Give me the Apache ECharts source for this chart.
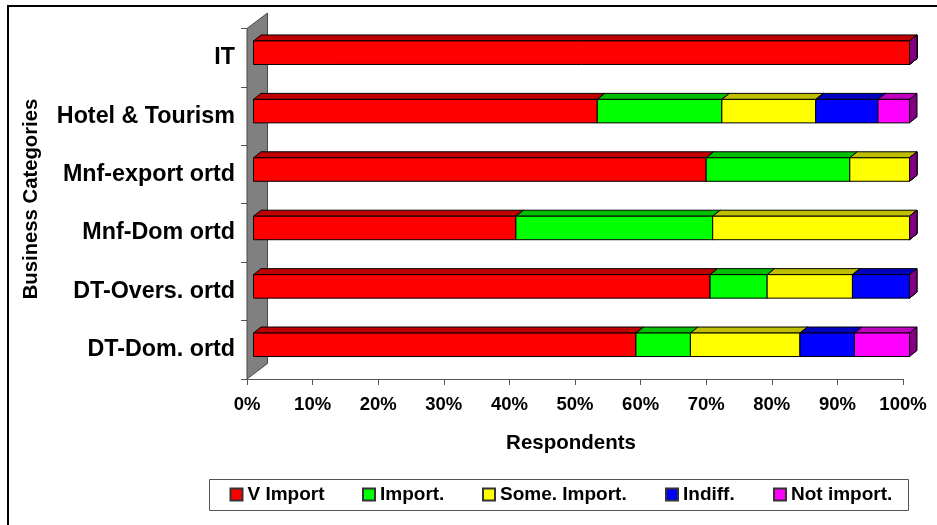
<!DOCTYPE html>
<html><head><meta charset="utf-8">
<style>html,body{margin:0;padding:0;background:#fff}#c{width:937px;height:525px}</style>
<script src="https://cdn.jsdelivr.net/npm/echarts@6/dist/echarts.min.js"></script>
</head><body><div id="c"></div>
<script>
var categories = ['DT-Dom. ortd','DT-Overs. ortd','Mnf-Dom ortd','Mnf-export ortd','Hotel & Tourism','IT'];
var vImport   = [58.3,69.6,40,69,52.4,100];
var importd   = [8.3,8.7,30,21.9,19,0];
var someImport= [16.7,13,30,9.1,14.3,0];
var indiff    = [8.3,8.7,0,0,9.5,0];
var notImport = [8.4,0,0,0,4.8,0];
var seriesNames = ['V Import','Import.','Some. Import.','Indiff.','Not import.'];
var seriesValues = [vImport,importd,someImport,indiff,notImport];
var frontColors = ['#ff0000','#00ff00','#ffff00','#0000ff','#ff00ff'];
var topColors = ['#bf0000','#00bf00','#bfbf00','#0000bf','#bf00bf'];
var sideColor = '#800080';

var FONT = '"Liberation Sans", Arial, sans-serif';
var DX = 6.5, DY = 5, BX = 7.5, BY = 6, BAR = 23.5, WX = 20.5, WY = 15.5;
var legendLefts = [229.5,362,482,665,773];

function barItem(idx){
  return function(params, api){
    var cat = api.value(0), s = api.value(1), e = api.value(2);
    var a = api.coord([s,cat]), b = api.coord([e,cat]);
    var x0 = a[0]+DX, x1 = b[0]+DX, yc = a[1]-DY, y0 = yc-BAR/2, y1 = yc+BAR/2;
    var st = {stroke:'#000',lineWidth:1};
    var kids = [];
    kids.push({type:'polygon',shape:{points:[[x1,y0],[x1+BX,y0-BY],[x1+BX,y1-BY],[x1,y1]]},
      style:Object.assign({fill:sideColor},st)});
    if (e>s){
      kids.push({type:'polygon',shape:{points:[[x0,y0],[x0+BX,y0-BY],[x1+BX,y0-BY],[x1,y0]]},
        style:Object.assign({fill:topColors[idx]},st)});
      kids.push({type:'rect',shape:{x:x0,y:y0,width:x1-x0,height:BAR},
        style:Object.assign({fill:frontColors[idx]},st)});
    }
    return {type:'group',children:kids};
  };
}
var running = categories.map(function(){return 0;});
var series = [{
  type:'custom',silent:true,z:1,
  data:[[0]],
  encode:{x:0},
  renderItem:function(params,api){
    var cs = params.coordSys;
    var xl = cs.x, yt = cs.y, yb = cs.y+cs.height;
    return {type:'polygon',shape:{points:[[xl,yt],[xl+WX,yt-WY],[xl+WX,yb-WY],[xl,yb]]},
      style:{fill:'#808080',stroke:'#4a4a4a',lineWidth:1}};
  }
}];
seriesNames.forEach(function(n,i){
  var data = categories.map(function(c,k){
    var s = running[k], e = s+seriesValues[i][k];
    running[k]=e;
    return [k,s,Math.min(e,100)];
  });
  series.push({
    name:n,type:'custom',z:2+i,silent:true,
    itemStyle:{color:frontColors[i],borderColor:'#333',borderWidth:1},
    encode:{x:[1,2],y:0},
    data:data,
    renderItem:barItem(i)
  });
});
var legends = seriesNames.map(function(n,i){
  return {data:[n],left:legendLefts[i],top:485,orient:'horizontal',padding:0,
    itemWidth:12,itemHeight:12,itemGap:0,selectedMode:false,
    icon:'rect',
    textStyle:{fontFamily:FONT,fontWeight:'bold',fontSize:19,color:'#000'}};
});
var chart = echarts.init(document.getElementById('c'),null,{renderer:'canvas'});
chart.setOption({
  animation:false,
  backgroundColor:'#fff',
  grid:{left:247,right:34,top:28.5,bottom:146,containLabel:false},
  xAxis:{type:'value',min:0,max:100,interval:10,
    name:'Respondents',nameLocation:'middle',nameGap:54,
    nameTextStyle:{fontFamily:FONT,fontWeight:'bold',fontSize:20.5,color:'#000',padding:[0,8,0,0]},
    axisLine:{show:true,lineStyle:{color:'#555',width:1}},
    axisTick:{show:true,length:6,lineStyle:{color:'#555'}},
    splitLine:{show:false},
    axisLabel:{formatter:'{value}%',margin:16,fontFamily:FONT,fontWeight:'bold',fontSize:18.5,color:'#000',hideOverlap:false,showMinLabel:true,showMaxLabel:true}
  },
  yAxis:{type:'category',data:categories,
    name:'Business Categories',nameLocation:'middle',nameGap:206,nameRotate:90,
    nameTextStyle:{fontFamily:FONT,fontWeight:'bold',fontSize:20.3,color:'#000',padding:[0,0,0,9.5]},
    axisLine:{show:true,lineStyle:{color:'#555',width:1}},
    axisTick:{show:true,length:6,lineStyle:{color:'#555'}},
    splitLine:{show:false},
    axisLabel:{margin:12,interval:0,fontFamily:FONT,fontWeight:'bold',fontSize:23.3,color:'#000',
      padding:[0,0,4,0]}
  },
  legend:legends,
  graphic:[
    {type:'line',silent:true,z:-1,shape:{x1:7,y1:6,x2:937,y2:6},style:{stroke:'#000',lineWidth:2}},
    {type:'line',silent:true,z:-1,shape:{x1:8,y1:5,x2:8,y2:525},style:{stroke:'#000',lineWidth:2}},
    {type:'rect',silent:true,z:-1,shape:{x:209.5,y:479.5,width:699,height:31},style:{fill:'#fff',stroke:'#555',lineWidth:1}}
  ],
  series:series
});
</script></body></html>
